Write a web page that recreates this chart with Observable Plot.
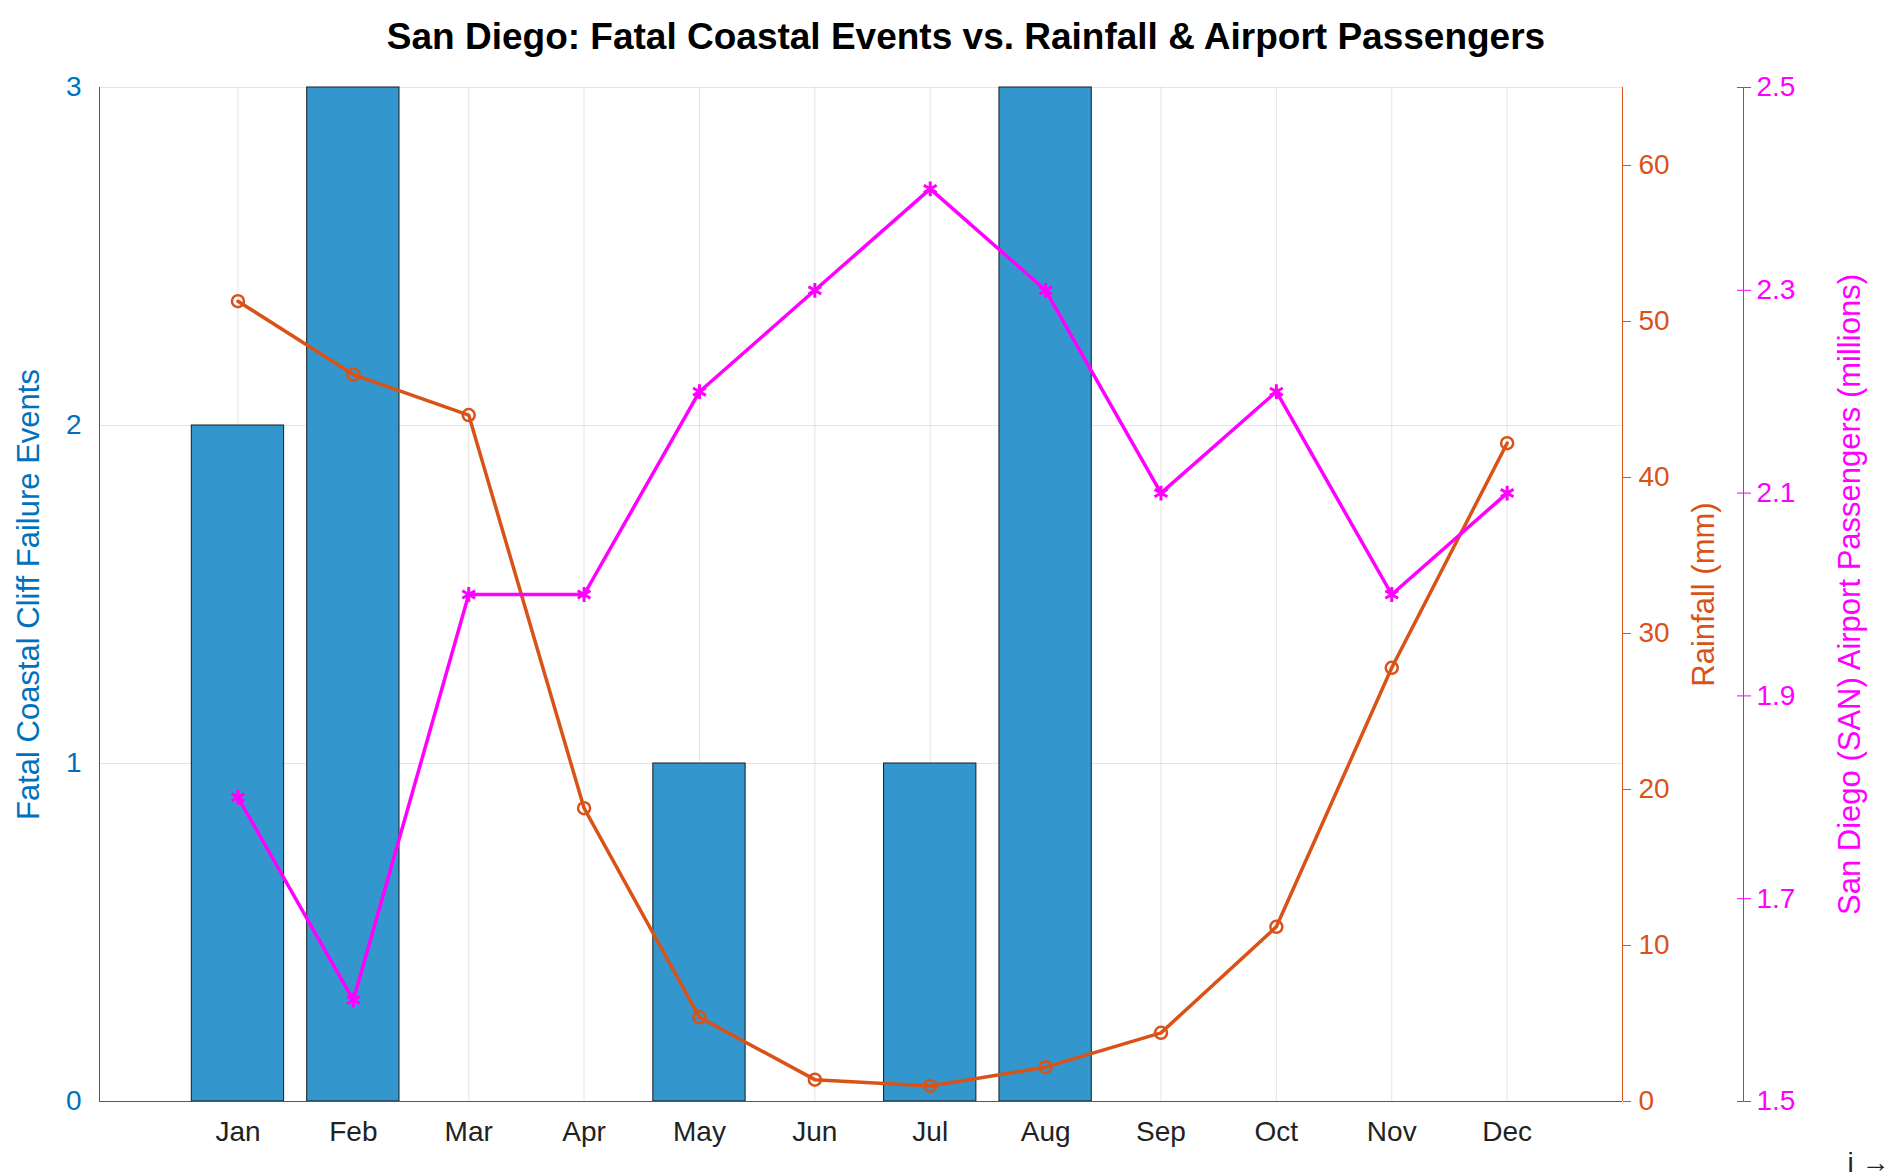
<!DOCTYPE html>
<html><head><meta charset="utf-8">
<script src="https://cdn.jsdelivr.net/npm/d3@7"></script>
<script src="https://cdn.jsdelivr.net/npm/@observablehq/plot@0.6"></script>
<style>body{margin:0;background:#fff;font-family:Helvetica,"Liberation Sans",Arial,sans-serif}
#t{height:60px;line-height:74px;text-align:center;font-weight:bold;font-size:37px;padding-left:40px}</style>
</head><body>
<div id="t">San Diego: Fatal Coastal Events vs. Rainfall &amp; Airport Passengers</div>
<div id="c"></div>
<script>
const months = ["Jan","Feb","Mar","Apr","May","Jun","Jul","Aug","Sep","Oct","Nov","Dec"];
const events = [2,3,0,0,1,0,1,3,0,0,0,0];
const rainfall = [51.3,46.6,44.0,18.8,5.4,1.4,1.0,2.2,4.4,11.2,27.8,42.2];
const passengers = [1.8,1.6,2.0,2.0,2.2,2.3,2.4,2.3,2.1,2.2,2.0,2.1];
const rainTicks = [0,10,20,30,40,50,60];
const paxTicks = [1.5,1.7,1.9,2.1,2.3,2.5];
const eventTicks = [0,1,2,3];

const rainMax = 65, paxMin = 1.5, paxMax = 2.5, evMax = 3;
const rY = v => v / rainMax * evMax;
const pY = v => (v - paxMin) / (paxMax - paxMin) * evMax;
const data = months.map((m,i)=>({i:i+1,m,e:events[i],r:rY(rainfall[i]),p:pY(passengers[i])}));

const BLUE="#0072BD", ORANGE="#D95319", MAG="#FF00FF";
const fs = 28;
const X0 = -0.2, X1 = 13;
const chart = Plot.plot({
  width:1892, height:1114,
  marginTop:27, marginBottom:73, marginLeft:99, marginRight:270,
  style:{fontSize:fs+"px", fontFamily:"Helvetica,'Liberation Sans',Arial,sans-serif"},
  x:{domain:[X0,X1], axis:null},
  y:{domain:[0,3], axis:null},
  marks:[
    Plot.gridX(d3.range(1,13),{stroke:"#000",strokeOpacity:0.1}),
    Plot.gridY([1,2,3],{stroke:"#000",strokeOpacity:0.1}),
    Plot.rectY(data,{x1:d=>d.i-0.4,x2:d=>d.i+0.4,y1:0,y2:"e",fill:"#3396CC",stroke:"#1a1a1a",strokeWidth:1}),
    Plot.axisX(d3.range(1,13),{tickFormat:d=>months[d-1],tickSize:0,tickPadding:20,fill:"#222",fontSize:fs}),
    Plot.axisY(eventTicks,{anchor:"left",tickSize:0,tickPadding:18,fill:BLUE,fontSize:fs,tickFormat:d=>String(d)}),
    Plot.ruleX([X0],{stroke:BLUE}),
    Plot.ruleY([0],{stroke:BLUE}),
    Plot.ruleX([X1],{stroke:ORANGE}),
    Plot.axisY(rainTicks.map(rY),{anchor:"right",tickSize:8,tickPadding:8,stroke:ORANGE,fill:ORANGE,fontSize:fs,tickFormat:(d,i)=>rainTicks[i]}),
    Plot.ruleX([X1],{stroke:MAG,dx:121}),
    Plot.axisY(paxTicks.map(pY),{anchor:"right",tickSize:14,tickPadding:6,stroke:MAG,fill:MAG,fontSize:fs,dx:114,tickFormat:(d,i)=>paxTicks[i].toFixed(1)}),
    Plot.line(data,{x:"i",y:"r",stroke:ORANGE,strokeWidth:3.5}),
    Plot.dot(data,{x:"i",y:"r",stroke:ORANGE,strokeWidth:2.5,r:6,fill:"none"}),
    Plot.line(data,{x:"i",y:"p",stroke:MAG,strokeWidth:3.5}),
    Plot.dot(data,{x:"i",y:"p",stroke:MAG,fill:MAG,strokeWidth:3,r:7,symbol:"asterisk"}),
    Plot.text(["Fatal Coastal Cliff Failure Events"],{frameAnchor:"left",textAnchor:"middle",dx:-70,rotate:-90,fill:BLUE,fontSize:31}),
    Plot.text(["Rainfall (mm)"],{frameAnchor:"right",textAnchor:"middle",dx:82,rotate:-90,fill:ORANGE,fontSize:31}),
    Plot.text(["San Diego (SAN) Airport Passengers (millions)"],{frameAnchor:"right",textAnchor:"middle",dx:228,rotate:-90,fill:MAG,fontSize:31})
  ]
});
document.getElementById("c").appendChild(chart);
</script>
</body></html>
